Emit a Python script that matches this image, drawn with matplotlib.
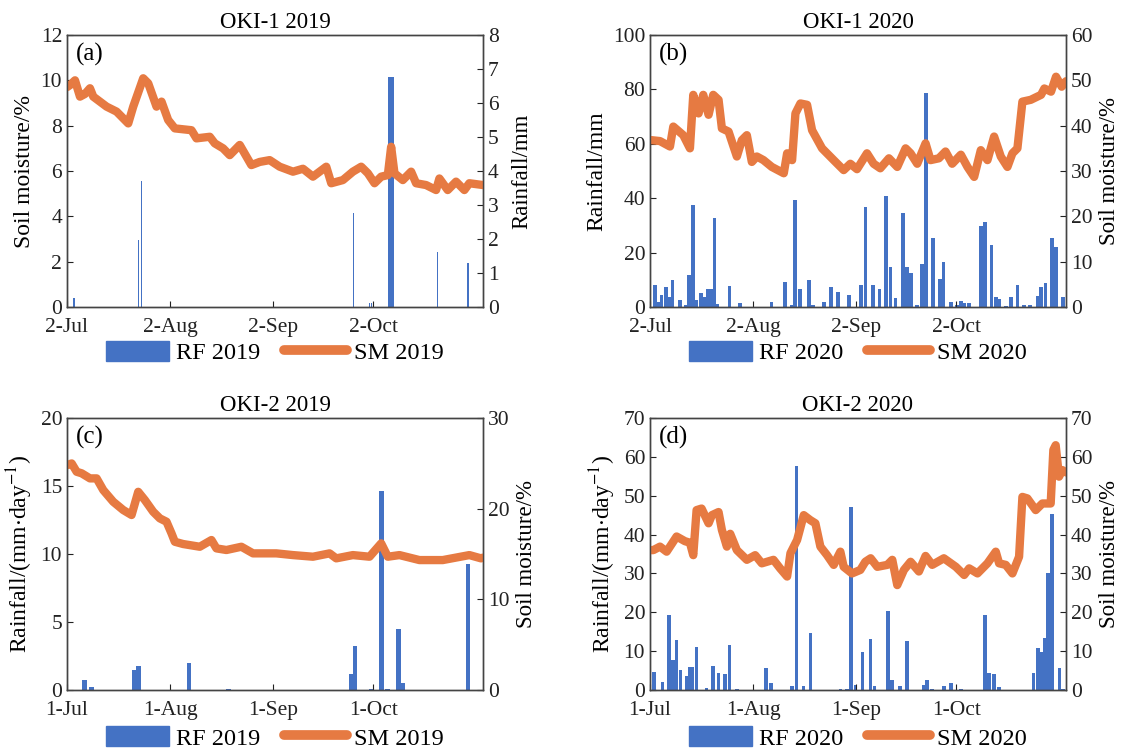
import numpy as np
import matplotlib
matplotlib.use("Agg")
import matplotlib.pyplot as plt
from matplotlib.patches import Patch
from matplotlib.lines import Line2D

plt.rcParams['font.family'] = ['Liberation Serif', 'DejaVu Serif']
plt.rcParams['mathtext.fontset'] = 'stix'

BLUE = '#4472C4'
ORANGE = '#E67A42'

# --- data (x = days since the first tick date) ---
# (a) OKI-1 2019, from 2-Jul
a_rf_day = [2.1, 21.4, 22.4, 86.2, 91.0, 91.6, 97.4, 111.4, 120.5]
a_rf_mm = [0.26, 1.97, 3.7, 2.77, 0.12, 0.12, 6.77, 1.63, 1.29]
a_sm_day = [0, 0.9, 2.4, 3.9, 5.4, 6.9, 7.9, 11.9, 14.9, 18.4, 19.9, 22.9, 24.4, 26.9, 28.4,
            30.4, 32.4, 37.4, 38.9, 42.9, 44.4, 46.9, 48.9, 51.9, 55.4, 57.9, 60.9, 63.9,
            67.9, 70.9, 73.9, 77.9, 79.4, 82.9, 85.9, 88.4, 90.4, 92.4, 94.4, 96.4, 97.4,
            98.4, 100.9, 103.4, 104.9, 107.9, 110.9, 111.9, 114.4, 116.9, 119.4, 120.9, 125]
a_sm = [9.7, 9.79, 10.0, 9.28, 9.4, 9.65, 9.28, 8.84, 8.62, 8.1, 8.84, 10.09, 9.87, 8.84, 9.06,
        8.25, 7.88, 7.8, 7.44, 7.51, 7.22, 7.0, 6.7, 7.15, 6.26, 6.4, 6.48, 6.19,
        5.97, 6.1, 5.75, 6.19, 5.46, 5.6, 5.97, 6.19, 5.9, 5.46, 5.75, 5.82, 7.07,
        5.9, 5.6, 5.97, 5.46, 5.38, 5.16, 5.67, 5.16, 5.53, 5.16, 5.46, 5.38]

# (b) OKI-1 2020, from 2-Jul
b_rf_day = [1.5, 2.5, 3.5, 4.8, 5.8, 6.8, 9.0, 10.8, 11.8, 13.0, 14.0, 15.3, 16.6, 17.4, 18.4,
            19.4, 20.3, 23.9, 27.1, 36.5, 40.5, 42.5, 43.5, 45.0, 47.7, 49.0, 52.2, 54.4,
            56.5, 59.7, 63.5, 64.8, 67.0, 69.0, 71.0, 72.3, 73.8, 76.0, 77.3, 78.5, 80.3,
            81.8, 83.0, 85.1, 87.2, 88.2, 90.4, 92.2, 93.4, 94.4, 95.9, 99.4, 100.6, 102.6,
            103.9, 104.9, 106.9, 108.4, 110.4, 112.4, 114.2, 116.5, 117.5, 118.8, 120.8,
            122.0, 124.0]
b_rf_mm = [8.1, 2.0, 4.4, 7.5, 3.8, 9.9, 2.6, 0.8, 11.8, 37.5, 2.6, 5.3, 3.8, 6.5, 6.5,
           32.6, 1.0, 7.7, 1.4, 2.0, 9.3, 0.8, 39.3, 6.7, 9.9, 0.8, 2.0, 7.5,
           5.6, 4.4, 8.1, 36.9, 8.1, 6.5, 40.9, 14.6, 3.3, 34.4, 14.8, 12.4, 0.8,
           15.8, 78.6, 25.2, 10.2, 16.4, 2.0, 0.8, 2.2, 1.5, 1.3, 29.9, 31.4, 22.8,
           3.5, 3.0, 0.5, 3.8, 8.1, 0.8, 0.8, 4.1, 7.5, 8.8, 25.2,
           22.1, 3.8]
b_sm_day = [0, 0.5, 3.0, 6.0, 7.0, 10.0, 12.0, 13.0, 14.6, 16.0, 17.6, 19.0, 20.6, 21.6, 23.6,
            26.1, 27.6, 29.1, 30.6, 32.1, 34.1, 36.6, 40.2, 41.2, 42.7, 43.7, 45.2, 47.2,
            48.7, 51.7, 55.2, 58.2, 60.2, 62.2, 65.2, 67.2, 69.2, 71.8, 74.3, 76.8, 78.3,
            80.3, 82.8, 84.3, 86.8, 88.8, 90.8, 93.4, 95.4, 97.4, 99.4, 101.4, 103.4,
            105.4, 107.4, 108.9, 110.4, 111.9, 114.4, 117.5, 118.5, 120.5, 122.0, 123.7, 125]
b_sm = [36.8, 36.8, 36.6, 35.4, 39.8, 37.9, 35.0, 46.8, 42.7, 46.8, 42.4, 46.8, 45.7, 39.4, 38.7,
        33.2, 36.8, 37.9, 32.0, 33.2, 32.4, 30.9, 29.5, 33.9, 32.4, 42.7, 44.9, 44.6,
        39.0, 35.0, 32.4, 30.2, 31.6, 30.4, 33.9, 31.6, 30.6, 32.8, 30.9, 35.0, 33.9,
        31.6, 36.1, 32.4, 32.8, 34.3, 31.6, 33.6, 30.9, 28.7, 34.6, 32.4, 37.6,
        33.2, 30.9, 33.9, 35.0, 45.3, 45.7, 46.8, 48.2, 47.5, 50.8, 48.6, 49.8]

# (c) OKI-2 2019, from 1-Jul
c_rf_day = [5.2, 7.4, 20.1, 21.5, 36.7, 48.5, 85.3, 86.5, 91.5, 94.5, 96.3, 99.7, 101.0, 120.5]
c_rf_mm = [0.74, 0.25, 1.5, 1.76, 2.0, 0.05, 1.15, 3.24, 0.05, 14.6, 0.1, 4.5, 0.5, 9.3]
c_sm_day = [0, 1.4, 2.9, 4.4, 6.9, 8.9, 10.9, 13.9, 16.9, 19.4, 21.4, 23.4, 25.9, 27.9, 29.9,
            31.4, 32.4, 34.9, 39.9, 43.4, 44.9, 47.9, 52.4, 55.9, 62.9, 67.9, 73.9, 78.9,
            80.9, 85.9, 90.9, 94.4, 96.4, 99.9, 105.9, 112.9, 120.9, 124.4, 125]
c_sm = [24.8, 24.99, 24.07, 23.9, 23.34, 23.34, 22.05, 20.76, 19.85, 19.3, 21.86, 20.95, 19.66,
        18.93, 18.56, 17.28, 16.35, 16.1, 15.8, 16.54, 15.62, 15.44, 15.8, 15.07, 15.07, 14.88,
        14.7, 15.07, 14.52, 14.88, 14.7, 16.17, 14.7, 14.88, 14.33, 14.33, 14.88, 14.52, 14.6]

# (d) OKI-2 2020, from 1-Jul
d_rf_day = [1.2, 3.8, 5.8, 7.0, 8.0, 9.2, 11.0, 12.0, 12.8, 14.0, 17.0, 19.0, 20.6, 22.6, 23.9,
            26.1, 34.9, 36.3, 42.7, 44.0, 46.1, 48.2, 57.2, 59.2, 60.4, 61.7, 63.9, 66.3,
            67.5, 71.5, 72.8, 75.1, 77.3, 82.3, 83.3, 84.8, 88.3, 90.5, 93.4, 100.6, 101.9,
            103.4, 104.9, 115.2, 116.5, 117.5, 118.5, 119.5, 120.7, 123.0, 124.0]
d_rf_mm = [4.7, 2.1, 19.3, 7.7, 12.9, 5.1, 3.5, 6.0, 6.0, 11.0, 0.5, 6.3, 4.3, 4.1, 11.6,
           0.3, 5.6, 1.7, 1.0, 57.6, 1.0, 14.6, 0.3, 0.3, 47.2, 1.4, 9.9, 13.0,
           1.0, 20.4, 2.6, 1.0, 12.7, 1.4, 2.6, 0.3, 1.0, 1.9, 0.3, 19.3, 4.3,
           4.0, 0.7, 4.3, 10.9, 9.7, 13.5, 30.0, 45.3, 5.6, 0.3]
d_sm_day = [0, 1.0, 3.0, 5.0, 8.0, 10.5, 12.0, 13.0, 14.0, 15.5, 17.6, 18.6, 20.6, 21.6, 23.1,
            24.1, 26.1, 29.1, 31.6, 33.6, 37.1, 39.1, 41.2, 42.2, 44.2, 46.2, 48.2, 49.7,
            51.2, 53.2, 55.2, 57.2, 58.2, 60.7, 63.2, 64.7, 66.3, 68.3, 71.3, 72.8, 74.3,
            76.3, 78.3, 80.8, 82.8, 84.8, 88.3, 91.9, 94.4, 95.9, 98.4, 101.4, 103.9,
            104.9, 106.9, 108.9, 110.9, 111.9, 113.4, 115.9, 117.9, 120.4, 121.2, 121.9,
            122.9, 123.9, 125]
d_sm = [36.0, 36.0, 36.9, 35.6, 39.5, 38.3, 37.9, 34.7, 46.3, 46.7, 42.9, 45.0, 45.8, 41.2, 36.9,
        40.2, 36.0, 33.5, 34.7, 32.6, 33.5, 31.3, 29.2, 35.2, 38.6, 45.0, 43.7, 42.9,
        36.9, 34.7, 32.2, 35.6, 31.7, 30.0, 30.9, 33.0, 33.9, 31.7, 32.2, 33.5, 27.0,
        30.9, 33.0, 30.5, 34.5, 32.2, 33.9, 31.7, 29.6, 31.3, 30.0, 32.6, 35.6,
        32.6, 32.2, 30.0, 34.3, 49.7, 49.3, 46.3, 48.0, 48.0, 61.8, 63.0,
        54.9, 56.6, 56.0]

tick_days = [0, 31, 62, 92]
ticks_2 = ['2-Jul', '2-Aug', '2-Sep', '2-Oct']
ticks_1 = ['1-Jul', '1-Aug', '1-Sep', '1-Oct']

W, H = 1121, 749
fig = plt.figure(figsize=(W / 100, H / 100), dpi=100)

def px_axes(left, top, right, bottom):
    return fig.add_axes([left / W, 1 - bottom / H, (right - left) / W, (bottom - top) / H])

def style(ax):
    ax.tick_params(direction='in', labelsize=15.5, length=4, colors='#222222')
    ax.tick_params(axis='x', pad=8)
    for s in ax.spines.values():
        s.set_color('#444444')
        s.set_linewidth(1.0)

def panel(box, title, tag, rf_day, rf_mm, rf_w, sm_day, sm, xt, sm_left,
          rf_lim, rf_ticks, sm_lim, sm_ticks, rf_label, year, leg_y):
    ax = px_axes(*box)
    ax2 = ax.twinx()
    if sm_left:
        ax_sm, ax_rf = ax, ax2
        ax.set_zorder(ax2.get_zorder() + 1)
        ax.patch.set_visible(False)
    else:
        ax_rf, ax_sm = ax, ax2
    ax_rf.bar(rf_day, rf_mm, width=rf_w, color=BLUE, align='center')
    ax_sm.plot(sm_day, sm, color=ORANGE, lw=6, solid_capstyle='round', solid_joinstyle='round')
    ax_rf.set_ylim(*rf_lim)
    ax_rf.set_yticks(rf_ticks)
    ax_sm.set_ylim(*sm_lim)
    ax_sm.set_yticks(sm_ticks)
    ax.set_ylabel(rf_label if not sm_left else 'Soil moisture/%', fontsize=17, labelpad=4)
    ax2.set_ylabel('Soil moisture/%' if not sm_left else rf_label, fontsize=16.5,
                   labelpad=9 if sm_left else 5)
    ax.set_xlim(0, 125)
    ax.set_xticks(tick_days)
    ax.set_xticklabels(xt)
    style(ax)
    style(ax2)
    ax.set_title(title, fontsize=16.5, pad=5)
    ax.text(0.022, 0.97, tag, transform=ax.transAxes, fontsize=18, va='top', ha='left')
    handles = [Patch(color=BLUE), Line2D([], [], color=ORANGE, lw=7, solid_capstyle='round')]
    ax.legend(handles, [f'RF {year}', f'SM {year}'], loc='center', bbox_to_anchor=(0.5, leg_y),
              ncol=2, frameon=False, fontsize=17.5, handlelength=2.6, handleheight=0.9,
              columnspacing=0.95, handletextpad=0.3)
    return ax

a_w = [0.35 if v < 5 else 1.8 for v in a_rf_mm]
panel((67, 35, 483, 307), 'OKI-1 2019', '(a)', a_rf_day, a_rf_mm, a_w, a_sm_day, a_sm,
      ticks_2, True, (0, 8), range(0, 9), (0, 12), range(0, 13, 2), 'Rainfall/mm', 2019, -0.168)
panel((650, 35, 1066, 307), 'OKI-1 2020', '(b)', b_rf_day, b_rf_mm, 1.1, b_sm_day, b_sm,
      ticks_2, False, (0, 100), range(0, 101, 20), (0, 60), range(0, 61, 10), 'Rainfall/mm', 2020, -0.168)
panel((67, 418, 483, 690), 'OKI-2 2019', '(c)', c_rf_day, c_rf_mm, 1.4, c_sm_day, c_sm,
      ticks_1, False, (0, 20), range(0, 21, 5), (0, 30), range(0, 31, 10),
      r'Rainfall/(mm$\cdot$day$^{-1}$)', 2019, -0.176)
panel((650, 418, 1066, 690), 'OKI-2 2020', '(d)', d_rf_day, d_rf_mm, 1.1, d_sm_day, d_sm,
      ticks_1, False, (0, 70), range(0, 71, 10), (0, 70), range(0, 71, 10),
      r'Rainfall/(mm$\cdot$day$^{-1}$)', 2020, -0.176)

fig.savefig('out.png', dpi=100)
